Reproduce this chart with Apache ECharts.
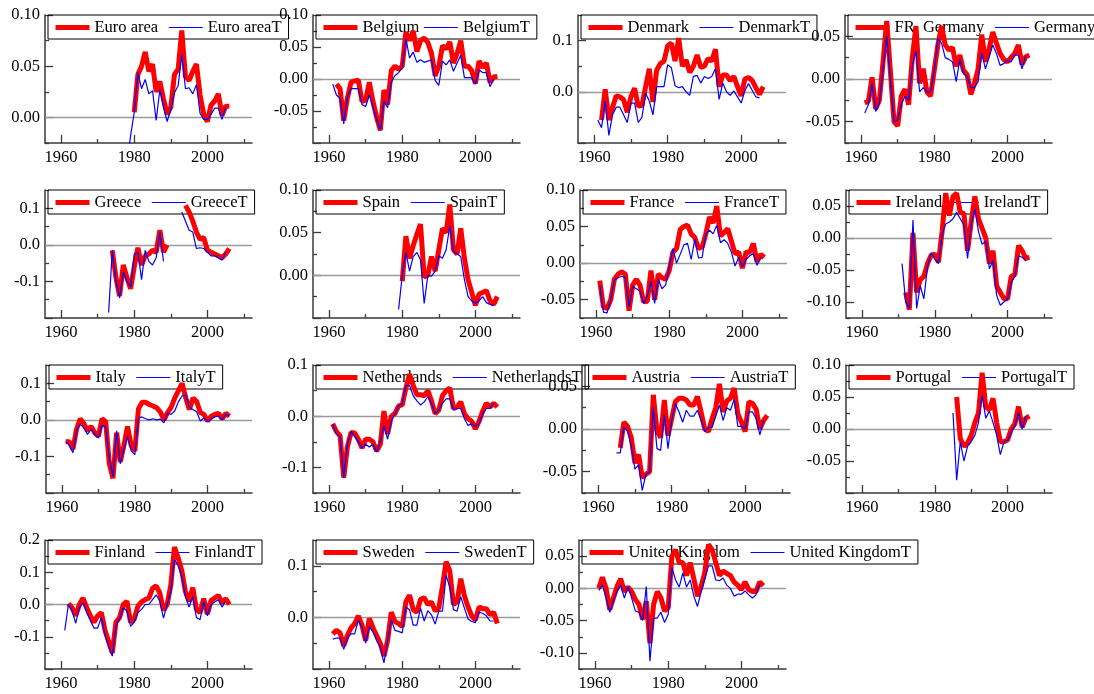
<!DOCTYPE html>
<html>
<head>
<meta charset="utf-8">
<script src="https://cdn.jsdelivr.net/npm/echarts@6/dist/echarts.min.js"></script>
<style>
  html, body { margin: 0; padding: 0; background: #ffffff; }
  #chart { width: 1094px; height: 694px; }
</style>
</head>
<body>
<div id="chart"></div>
<script>
// Annual observations, 1961-2006 (null = no observation)
const years = [1961,1962,1963,1964,1965,1966,1967,1968,1969,1970,
               1971,1972,1973,1974,1975,1976,1977,1978,1979,1980,
               1981,1982,1983,1984,1985,1986,1987,1988,1989,1990,
               1991,1992,1993,1994,1995,1996,1997,1998,1999,2000,
               2001,2002,2003,2004,2005,2006];

const euroArea = [null,null,null,null,null,null,null,null,null,null,
  null,null,null,null,null,null,null,null,null,0.005,
  0.042,0.050,0.064,0.045,0.052,0.025,0.035,0.018,0.003,0.010,
  0.042,0.047,0.085,0.040,0.036,0.045,0.052,0.022,0.003,-0.004,
  0.012,0.016,0.023,0.002,0.011,0.011];
const euroAreaT = [null,null,null,null,null,null,null,null,null,null,
  null,null,null,null,null,null,null,-0.045,-0.018,0.005,
  0.044,0.028,0.037,0.023,0.026,-0.003,0.027,0.010,-0.004,0.008,
  0.024,0.031,0.061,0.028,0.029,0.023,0.032,0.004,-0.002,-0.002,
  0.003,0.009,0.009,-0.002,0.010,null];

const belgium = [null,-0.008,-0.015,-0.065,-0.030,-0.005,-0.003,-0.002,-0.035,-0.033,
  -0.005,-0.035,-0.060,-0.080,-0.017,-0.040,0.013,0.020,0.015,0.020,
  0.073,0.060,0.075,0.043,0.060,0.064,0.057,0.040,0.005,0.020,
  0.052,0.047,0.058,0.025,0.040,0.060,0.020,0.020,0.013,-0.007,
  0.028,0.018,0.025,-0.005,0.003,0.004];
const belgiumT = [-0.008,-0.025,-0.030,-0.070,-0.028,-0.015,-0.015,-0.015,-0.040,-0.043,
  -0.025,-0.045,-0.063,-0.080,-0.035,-0.045,-0.005,0.005,0.010,0.018,
  0.063,0.033,0.042,0.026,0.030,0.026,0.028,0.030,-0.002,-0.010,
  0.028,0.022,0.030,0.012,0.025,0.037,0.002,0.002,0.002,-0.008,
  0.014,0.010,0.010,-0.012,0.000,null];

const denmark = [null,-0.055,0.005,-0.055,-0.030,-0.008,-0.010,-0.015,-0.040,-0.010,
  0.007,-0.028,-0.027,0.010,0.045,-0.020,0.042,0.055,0.060,0.090,
  0.095,0.060,0.105,0.050,0.062,0.038,0.050,0.072,0.048,0.050,
  0.065,0.060,0.083,0.010,0.033,0.033,0.022,0.030,0.010,-0.008,
  0.025,0.028,0.022,0.008,-0.005,0.010];
const denmarkT = [-0.055,-0.070,-0.018,-0.085,-0.045,-0.030,-0.030,-0.045,-0.060,-0.022,
  -0.022,-0.060,-0.050,-0.003,-0.018,-0.045,0.010,0.010,0.010,0.053,
  0.047,0.012,0.008,0.010,0.000,-0.007,0.030,0.032,0.017,0.030,
  0.026,0.030,0.045,-0.015,0.017,0.000,-0.007,0.002,-0.010,-0.022,
  0.002,0.016,0.003,-0.010,-0.012,null];

const germany = [-0.028,-0.026,0.002,-0.035,-0.025,0.020,0.068,0.010,-0.050,-0.055,
  -0.020,-0.012,-0.030,0.025,0.062,-0.005,0.012,-0.015,-0.020,0.010,
  0.040,0.062,0.040,0.034,0.037,0.015,0.028,0.010,0.005,-0.018,
  -0.005,0.012,0.052,0.020,0.035,0.055,0.042,0.030,0.023,0.020,
  0.025,0.030,0.040,0.017,0.026,0.028];
const germanyT = [-0.040,-0.030,-0.005,-0.038,-0.028,0.012,0.050,0.000,-0.050,-0.048,
  -0.030,-0.020,-0.025,0.015,0.033,-0.015,-0.010,-0.015,-0.015,0.010,
  0.047,0.042,0.025,0.023,0.020,-0.003,0.023,0.006,0.003,-0.010,
  -0.010,-0.003,0.030,0.012,0.025,0.040,0.030,0.016,0.018,0.022,
  0.020,0.028,0.028,0.012,0.027,null];

const greece = [null,null,null,null,null,null,null,null,null,null,
  null,null,null,-0.015,-0.090,-0.140,-0.055,-0.090,-0.120,-0.060,
  -0.008,-0.055,-0.030,-0.025,-0.015,-0.020,0.040,-0.020,0.000,null,
  null,null,null,0.108,0.090,0.065,0.035,0.015,0.020,-0.015,
  -0.020,-0.025,-0.030,-0.035,-0.025,-0.010];
const greeceT = [null,null,null,null,null,null,null,null,null,null,
  null,null,-0.185,-0.015,-0.100,-0.145,-0.075,-0.100,-0.115,-0.025,
  -0.020,-0.095,-0.015,-0.045,-0.055,-0.035,0.035,-0.045,null,null,
  null,null,0.090,0.065,0.040,0.035,-0.010,-0.008,-0.010,-0.020,
  -0.030,-0.030,-0.035,-0.042,-0.020,null];

const spain = [null,null,null,null,null,null,null,null,null,null,
  null,null,null,null,null,null,null,null,null,-0.007,
  0.046,0.020,0.035,0.048,0.060,-0.002,0.000,0.022,0.005,0.030,
  0.055,0.050,0.083,0.030,0.025,0.055,0.020,-0.005,-0.020,-0.035,
  -0.022,-0.020,-0.018,-0.030,-0.034,-0.025];
const spainT = [null,null,null,null,null,null,null,null,null,null,
  null,null,null,null,null,null,null,null,-0.040,0.000,
  0.027,0.005,0.022,0.027,0.018,-0.033,0.000,-0.001,0.005,0.023,
  0.020,0.030,0.058,0.028,0.025,0.022,-0.005,-0.025,-0.030,-0.033,
  -0.030,-0.025,-0.032,-0.034,-0.035,null];

const france = [-0.024,-0.060,-0.062,-0.050,-0.022,-0.015,-0.012,-0.015,-0.065,-0.030,
  -0.022,-0.030,-0.053,-0.052,-0.010,-0.050,-0.015,-0.020,-0.022,-0.010,
  0.015,0.020,0.046,0.050,0.052,0.040,0.035,0.020,0.022,0.040,
  0.063,0.055,0.078,0.037,0.042,0.047,0.030,0.013,0.015,-0.007,
  0.015,0.015,0.027,0.002,0.012,0.008];
const franceT = [-0.030,-0.067,-0.068,-0.050,-0.023,-0.020,-0.018,-0.020,-0.060,-0.032,
  -0.035,-0.038,-0.055,-0.045,-0.025,-0.055,-0.022,-0.035,-0.030,-0.005,
  0.020,0.000,0.012,0.025,0.027,0.005,0.033,0.007,0.008,0.040,
  0.045,0.040,0.052,0.028,0.032,0.027,0.015,-0.004,0.008,-0.005,
  0.005,0.010,0.013,-0.003,0.008,null];

const ireland = [null,null,null,null,null,null,null,null,null,null,
  null,-0.085,-0.112,0.008,-0.085,-0.065,-0.060,-0.040,-0.027,-0.025,
  -0.038,0.010,0.070,0.035,0.065,0.070,0.040,0.038,-0.020,0.025,
  0.065,0.030,0.015,0.000,-0.040,-0.020,-0.075,-0.085,-0.095,-0.095,
  -0.060,-0.057,-0.012,-0.020,-0.032,-0.030];
const irelandT = [null,null,null,null,null,null,null,null,null,null,
  -0.040,-0.100,-0.110,0.028,-0.110,-0.075,-0.095,-0.045,-0.023,-0.033,
  -0.040,0.005,0.022,0.025,0.030,0.040,0.030,0.020,-0.032,0.020,
  0.045,0.010,-0.010,-0.005,-0.048,-0.035,-0.090,-0.105,-0.100,-0.095,
  -0.070,-0.060,-0.028,-0.030,-0.036,null];

const italy = [-0.060,-0.060,-0.080,-0.025,0.003,-0.010,-0.030,-0.018,-0.035,-0.045,
  0.003,-0.005,-0.120,-0.160,-0.035,-0.115,-0.070,-0.018,-0.070,-0.085,
  0.030,0.048,0.048,0.042,0.038,0.033,0.022,0.000,0.020,0.035,
  0.060,0.080,0.100,0.060,0.028,0.060,0.050,0.020,0.015,-0.003,
  0.010,0.015,0.018,0.003,0.018,0.010];
const italyT = [-0.060,-0.068,-0.090,-0.030,-0.012,-0.022,-0.040,-0.025,-0.040,-0.050,
  -0.015,-0.020,-0.105,-0.155,-0.030,-0.120,-0.080,-0.045,-0.085,-0.095,
  0.005,0.008,0.003,0.000,0.003,0.000,0.002,-0.008,0.018,0.015,
  0.025,0.050,0.066,0.068,0.035,0.028,0.022,-0.003,0.005,-0.005,
  0.002,0.008,0.010,0.000,0.015,0.010];

const netherlands = [-0.015,-0.030,-0.038,-0.120,-0.060,-0.032,-0.033,-0.045,-0.062,-0.045,
  -0.045,-0.050,-0.068,-0.055,0.010,-0.035,0.000,0.005,0.020,0.022,
  0.055,0.082,0.060,0.042,0.042,0.040,0.050,0.030,0.005,0.012,
  0.040,0.050,0.055,0.015,0.018,0.028,0.005,-0.005,-0.010,-0.025,
  -0.010,0.010,0.025,0.018,0.025,0.018];
const netherlandsT = [-0.015,-0.035,-0.040,-0.120,-0.055,-0.030,-0.040,-0.050,-0.062,-0.055,
  -0.060,-0.055,-0.070,-0.050,-0.018,-0.045,-0.010,0.005,0.020,0.025,
  0.060,0.060,0.040,0.030,0.022,0.028,0.038,0.025,0.005,0.012,
  0.025,0.034,0.034,0.012,0.015,0.015,-0.005,-0.018,-0.015,-0.020,
  -0.015,0.005,0.015,0.015,0.025,null];

const austria = [null,null,null,null,null,-0.022,0.008,0.003,-0.010,-0.040,
  -0.030,-0.057,-0.053,-0.050,0.040,-0.002,-0.010,0.034,-0.008,0.012,
  0.032,0.036,0.036,0.034,0.028,0.028,0.038,0.020,0.000,-0.003,
  0.012,0.025,0.053,0.020,0.033,0.036,0.048,0.018,0.008,-0.003,
  0.032,0.030,0.023,0.000,0.010,0.016];
const austriaT = [null,null,null,null,-0.028,-0.028,0.002,-0.002,-0.020,-0.047,
  -0.042,-0.072,-0.053,-0.050,0.025,-0.023,-0.025,0.017,-0.023,0.010,
  0.030,0.020,0.008,0.022,0.015,0.015,0.022,0.010,-0.003,0.002,
  0.002,0.015,0.028,0.010,0.025,0.022,0.035,0.003,0.003,0.000,
  0.020,0.020,0.012,-0.007,0.010,null];

const portugal = [null,null,null,null,null,null,null,null,null,null,
  null,null,null,null,null,null,null,null,null,null,
  null,null,null,null,null,0.050,-0.015,-0.027,-0.022,-0.010,
  0.010,0.025,0.088,0.035,0.030,0.048,0.010,-0.020,-0.020,-0.017,
  0.000,0.008,0.035,0.003,0.017,0.020];
const portugalT = [null,null,null,null,null,null,null,null,null,null,
  null,null,null,null,null,null,null,null,null,null,
  null,null,null,null,0.025,-0.080,-0.020,-0.050,-0.027,-0.020,
  -0.010,0.010,0.052,0.017,0.028,0.010,-0.010,-0.040,-0.020,-0.018,
  -0.005,0.005,0.025,0.000,0.020,null];

const finland = [null,0.003,-0.010,-0.035,0.000,0.020,-0.010,-0.035,-0.055,-0.035,
  -0.025,-0.080,-0.115,-0.150,-0.055,-0.040,0.000,0.010,-0.055,-0.045,
  -0.005,0.008,0.015,0.020,0.050,0.058,0.035,-0.018,0.000,0.060,
  0.178,0.145,0.105,0.040,0.010,0.052,-0.015,-0.025,0.018,-0.030,
  0.012,0.020,0.028,0.005,0.018,0.000];
const finlandT = [-0.080,0.000,-0.020,-0.058,-0.010,0.005,-0.025,-0.050,-0.073,-0.073,
  -0.040,-0.095,-0.130,-0.160,-0.065,-0.045,-0.010,-0.020,-0.068,-0.055,
  -0.025,-0.015,0.000,0.000,0.015,0.030,0.010,-0.042,0.000,0.040,
  0.140,0.120,0.085,0.025,-0.008,0.025,-0.040,-0.047,0.010,-0.035,
  0.000,0.008,0.015,-0.008,0.010,null];

const sweden = [-0.032,-0.025,-0.030,-0.055,-0.035,-0.020,-0.012,0.003,-0.015,-0.045,
  -0.002,-0.020,-0.035,-0.050,-0.075,-0.045,0.010,-0.008,-0.012,-0.018,
  0.030,0.043,0.015,0.010,0.035,0.038,0.025,0.030,0.013,0.018,
  0.060,0.108,0.090,0.025,0.030,0.075,0.042,0.020,0.003,-0.005,
  0.020,0.017,0.017,0.005,0.010,-0.012];
const swedenT = [-0.042,-0.040,-0.040,-0.062,-0.040,-0.032,-0.032,-0.005,-0.020,-0.050,
  -0.018,-0.028,-0.045,-0.058,-0.088,-0.045,-0.005,-0.025,-0.027,-0.030,
  0.020,0.015,-0.015,-0.015,0.018,-0.007,0.013,0.005,-0.013,0.012,
  0.012,0.082,0.058,0.015,0.012,0.040,0.018,-0.003,-0.008,-0.010,
  0.010,0.008,0.003,-0.007,-0.007,null];

const unitedKingdom = [0.000,0.017,0.000,-0.033,-0.015,0.003,0.015,-0.005,0.002,-0.005,
  -0.017,-0.025,-0.048,-0.020,-0.085,-0.025,-0.005,-0.015,-0.035,-0.030,
  0.050,0.060,0.040,0.040,0.020,0.040,0.015,-0.012,0.003,0.025,
  0.068,0.060,0.040,0.020,0.027,0.023,0.020,0.010,0.005,-0.002,
  0.010,-0.002,-0.005,-0.005,0.010,0.004];
const unitedKingdomT = [-0.003,0.005,-0.015,-0.037,-0.020,-0.005,0.005,-0.015,0.003,-0.015,
  -0.035,-0.037,-0.050,0.003,-0.113,-0.046,-0.046,-0.037,-0.053,-0.040,
  0.032,0.013,0.002,0.024,0.002,0.013,-0.012,-0.028,-0.005,0.015,
  0.035,0.035,0.013,0.012,0.016,0.005,0.000,-0.012,-0.009,-0.009,
  -0.004,-0.010,-0.015,-0.010,0.007,null];

// Year axis tick labels
const xLabelYears = [1960, 1980, 2000];
const xMinorYears = [1970, 1990, 2010];

// Value-axis tick labels per panel
const yLabelsEuro = [0.10, 0.05, 0.00];
const yLabelsBelgium = [0.10, 0.05, 0.00, -0.05];
const yLabelsDenmark = [0.1, 0.0];
const yLabelsGermany = [0.05, 0.00, -0.05];
const yLabelsGreece = [0.1, 0.0, -0.1];
const yLabelsSpain = [0.10, 0.05, 0.00];
const yLabelsFrance = [0.10, 0.05, 0.00, -0.05];
const yLabelsIreland = [0.05, 0.00, -0.05, -0.10];
const yLabelsItaly = [0.1, 0.0, -0.1];
const yLabelsNetherlands = [0.1, 0.0, -0.1];
const yLabelsAustria = [0.05, 0.00, -0.05];
const yLabelsPortugal = [0.10, 0.05, 0.00, -0.05];
const yLabelsFinland = [0.2, 0.1, 0.0, -0.1];
const yLabelsSweden = [0.1, 0.0];
const yLabelsUK = [0.05, 0.00, -0.05, -0.10];

// Panel layout: plot box in pixels, value range, tick step
const panels = [
  {name: 'Euro area', trend: 'Euro areaT', a: euroArea, t: euroAreaT, row: 0, left: 45, right: 252, min: -0.025, max: 0.10, step: 0.05, labels: yLabelsEuro, dec: 2, gap: 10},
  {name: 'Belgium', trend: 'BelgiumT', a: belgium, t: belgiumT, row: 0, left: 313, right: 520, min: -0.10, max: 0.10, step: 0.05, labels: yLabelsBelgium, dec: 2, gap: 4},
  {name: 'Denmark', trend: 'DenmarkT', a: denmark, t: denmarkT, row: 0, left: 578, right: 786, min: -0.10, max: 0.15, step: 0.1, labels: yLabelsDenmark, dec: 1, gap: 10},
  {name: 'FR. Germany', trend: 'GermanyT', a: germany, t: germanyT, row: 0, left: 845, right: 1052, min: -0.075, max: 0.075, step: 0.05, labels: yLabelsGermany, dec: 2, gap: 10},
  {name: 'Greece', trend: 'GreeceT', a: greece, t: greeceT, row: 1, left: 45, right: 252, min: -0.20, max: 0.15, step: 0.1, labels: yLabelsGreece, dec: 1, gap: 10},
  {name: 'Spain', trend: 'SpainT', a: spain, t: spainT, row: 1, left: 313, right: 520, min: -0.05, max: 0.10, step: 0.05, labels: yLabelsSpain, dec: 2, gap: 10},
  {name: 'France', trend: 'FranceT', a: france, t: franceT, row: 1, left: 580, right: 787, min: -0.075, max: 0.10, step: 0.05, labels: yLabelsFrance, dec: 2, gap: 10},
  {name: 'Ireland', trend: 'IrelandT', a: ireland, t: irelandT, row: 1, left: 846, right: 1052, min: -0.125, max: 0.075, step: 0.05, labels: yLabelsIreland, dec: 2, gap: 2},
  {name: 'Italy', trend: 'ItalyT', a: italy, t: italyT, row: 2, left: 46, right: 252, min: -0.20, max: 0.15, step: 0.1, labels: yLabelsItaly, dec: 1, gap: 10},
  {name: 'Netherlands', trend: 'NetherlandsT', a: netherlands, t: netherlandsT, row: 2, left: 313, right: 520, min: -0.15, max: 0.10, step: 0.1, labels: yLabelsNetherlands, dec: 1, gap: 10},
  {name: 'Austria', trend: 'AustriaT', a: austria, t: austriaT, row: 2, left: 582, right: 790, min: -0.075, max: 0.075, step: 0.05, labels: yLabelsAustria, dec: 2, gap: 10},
  {name: 'Portugal', trend: 'PortugalT', a: portugal, t: portugalT, row: 2, left: 846, right: 1052, min: -0.10, max: 0.10, step: 0.05, labels: yLabelsPortugal, dec: 2, gap: 10},
  {name: 'Finland', trend: 'FinlandT', a: finland, t: finlandT, row: 3, left: 45, right: 252, min: -0.20, max: 0.20, step: 0.1, labels: yLabelsFinland, dec: 1, gap: 10},
  {name: 'Sweden', trend: 'SwedenT', a: sweden, t: swedenT, row: 3, left: 313, right: 520, min: -0.10, max: 0.15, step: 0.1, labels: yLabelsSweden, dec: 1, gap: 10},
  {name: 'United Kingdom', trend: 'United KingdomT', a: unitedKingdom, t: unitedKingdomT, row: 3, left: 579, right: 786, min: -0.125, max: 0.075, step: 0.05, labels: yLabelsUK, dec: 2, gap: 10}
];

const ROW_TOP = [15, 190, 365, 540];
const ROW_H = [128, 128, 128, 129];
const X_MIN = 1955.6, X_MAX = 2012.2;
const FONT = '"Liberation Serif", "Times New Roman", serif';
const FONT_SIZE = 16.5;
const AXIS_COLOR = '#3a3a3a';
const RED = '#ff0000', BLUE = '#0000ff';

// Major ticks at multiples of step, minor ticks halfway between
function tickValues(p) {
  const half = p.step / 2;
  const major = [], minor = [];
  const k0 = Math.ceil(p.min / half - 1e-9), k1 = Math.floor(p.max / half + 1e-9);
  for (let k = k0; k <= k1; k++) {
    const v = Math.round(k * half * 10000) / 10000;
    if (k % 2 === 0) major.push(v); else minor.push(v);
  }
  return {major, minor};
}

const grid = [], xAxis = [], yAxis = [], series = [], legend = [];

panels.forEach((p, i) => {
  const top = ROW_TOP[p.row];
  grid.push({left: p.left, top: top, width: p.right - p.left, height: ROW_H[p.row],
             containLabel: false, outerBoundsMode: 'none'});

  const labelStyle = {color: '#000', fontFamily: FONT, fontSize: FONT_SIZE};

  xAxis.push({
    type: 'value', gridIndex: i, min: X_MIN, max: X_MAX, position: 'bottom',
    axisLine: {show: true, onZero: false, lineStyle: {color: AXIS_COLOR, width: 1.5}},
    axisTick: {show: true, inside: true, length: 8, customValues: xLabelYears,
               lineStyle: {color: AXIS_COLOR, width: 1.3}},
    axisLabel: Object.assign({show: true, margin: 6, customValues: xLabelYears,
               formatter: v => String(v)}, labelStyle),
    splitLine: {show: false}
  });
  xAxis.push({
    type: 'value', gridIndex: i, min: X_MIN, max: X_MAX, position: 'bottom',
    axisLine: {show: false, onZero: false},
    axisTick: {show: true, inside: true, length: 4, customValues: xMinorYears,
               lineStyle: {color: AXIS_COLOR, width: 1.3}},
    axisLabel: {show: false}, splitLine: {show: false}
  });

  const ticks = tickValues(p);
  yAxis.push({
    type: 'value', gridIndex: i, min: p.min, max: p.max, position: 'left',
    axisLine: {show: true, onZero: false, lineStyle: {color: AXIS_COLOR, width: 1.5}},
    axisTick: {show: true, inside: true, length: 8, customValues: ticks.major,
               lineStyle: {color: AXIS_COLOR, width: 1.3}},
    axisLabel: Object.assign({show: true, margin: 5, customValues: p.labels,
               formatter: v => Number(v).toFixed(p.dec)}, labelStyle),
    splitLine: {show: false}
  });
  yAxis.push({
    type: 'value', gridIndex: i, min: p.min, max: p.max, position: 'left',
    axisLine: {show: false, onZero: false},
    axisTick: {show: true, inside: true, length: 4, customValues: ticks.minor,
               lineStyle: {color: AXIS_COLOR, width: 1.3}},
    axisLabel: {show: false}, splitLine: {show: false}
  });

  series.push({
    type: 'line', name: p.name, xAxisIndex: 2 * i, yAxisIndex: 2 * i,
    data: years.map((y, k) => [y, p.a[k]]),
    symbol: 'none', showSymbol: false, connectNulls: false, animation: false, z: 2,
    lineStyle: {color: RED, width: 5}, itemStyle: {color: RED},
    emphasis: {disabled: true},
    markLine: {
      silent: true, symbol: ['none', 'none'], z: 1, animation: false,
      label: {show: false},
      lineStyle: {color: '#9a9a9a', width: 1.3, type: 'solid'},
      emphasis: {disabled: true},
      data: [{yAxis: 0}]
    }
  });
  series.push({
    type: 'line', name: p.trend, xAxisIndex: 2 * i, yAxisIndex: 2 * i,
    data: years.map((y, k) => [y, p.t[k]]),
    symbol: 'none', showSymbol: false, connectNulls: false, animation: false, z: 3,
    lineStyle: {color: BLUE, width: 1.2}, itemStyle: {color: BLUE},
    emphasis: {disabled: true}
  });

  legend.push({
    type: 'plain', orient: 'horizontal', left: p.left + 3, top: top, width: 420,
    padding: [4, 7, 3, 5], itemGap: p.gap, itemWidth: 34, itemHeight: 17,
    borderColor: '#000', borderWidth: 1, backgroundColor: 'transparent', z: 1,
    selectedMode: false,
    textStyle: {fontFamily: FONT, fontSize: FONT_SIZE, lineHeight: 17, color: '#000'},
    data: [
      {name: p.name, itemStyle: {opacity: 0}, lineStyle: {width: 5, color: RED}},
      {name: p.trend, itemStyle: {opacity: 0}, lineStyle: {width: 1.2, color: BLUE}}
    ]
  });
});

const chart = echarts.init(document.getElementById('chart'), null, {renderer: 'canvas'});
chart.setOption({
  animation: false,
  backgroundColor: '#ffffff',
  tooltip: {show: false},
  grid, xAxis, yAxis, series, legend
});
</script>
</body>
</html>
